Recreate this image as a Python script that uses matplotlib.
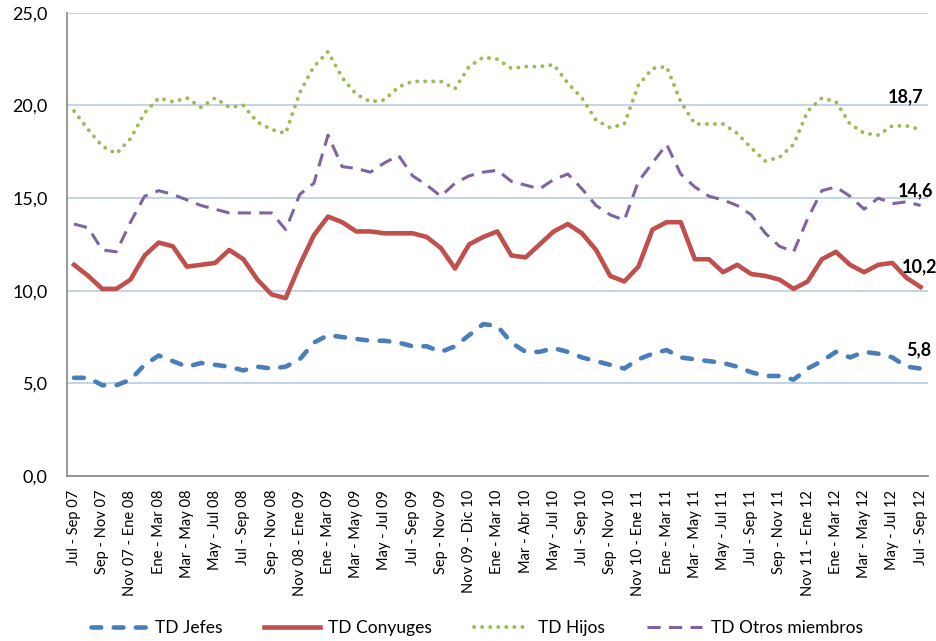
import matplotlib
matplotlib.use("Agg")
import matplotlib.pyplot as plt
from matplotlib.ticker import FuncFormatter

plt.rcParams['font.family'] = ['Lato', 'DejaVu Sans']
plt.rcParams['lines.scale_dashes'] = False

# rolling quarters, one per month; only every other one gets a label
periodos = [
    "Jul - Sep 07", "", "Sep - Nov 07", "", "Nov 07 - Ene 08", "", "Ene - Mar 08", "",
    "Mar - May 08", "", "May - Jul 08", "", "Jul - Sep 08", "", "Sep - Nov 08", "",
    "Nov 08 - Ene 09", "", "Ene - Mar 09", "", "Mar - May 09", "", "May - Jul 09", "",
    "Jul - Sep 09", "", "Sep - Nov 09", "", "Nov 09 - Dic 10", "", "Ene - Mar 10", "",
    "Mar - Abr 10", "", "May - Jul 10", "", "Jul - Sep 10", "", "Sep - Nov 10", "",
    "Nov 10 - Ene 11", "", "Ene - Mar 11", "", "Mar - May 11", "", "May - Jul 11", "",
    "Jul - Sep 11", "", "Sep - Nov 11", "", "Nov 11 - Ene 12", "", "Ene - Mar 12", "",
    "Mar - May 12", "", "May - Jul 12", "", "Jul - Sep 12",
]

td_jefes = [5.3, 5.3, 4.9, 4.9, 5.2, 6.0, 6.5, 6.2, 5.9, 6.1, 6.0, 5.9, 5.7, 5.9, 5.8, 5.9,
            6.3, 7.2, 7.6, 7.5, 7.4, 7.3, 7.3, 7.2, 7.0, 7.0, 6.7, 7.0, 7.6, 8.2, 8.1, 7.2,
            6.7, 6.7, 6.9, 6.7, 6.4, 6.2, 6.0, 5.8, 6.3, 6.6, 6.8, 6.4, 6.3, 6.2, 6.1, 5.9,
            5.6, 5.4, 5.4, 5.2, 5.8, 6.2, 6.7, 6.4, 6.7, 6.6, 6.4, 5.9, 5.8]

td_conyuges = [11.4, 10.8, 10.1, 10.1, 10.6, 11.9, 12.6, 12.4, 11.3, 11.4, 11.5, 12.2, 11.7, 10.6, 9.8, 9.6,
               11.4, 13.0, 14.0, 13.7, 13.2, 13.2, 13.1, 13.1, 13.1, 12.9, 12.3, 11.2, 12.5, 12.9, 13.2, 11.9,
               11.8, 12.5, 13.2, 13.6, 13.1, 12.2, 10.8, 10.5, 11.3, 13.3, 13.7, 13.7, 11.7, 11.7, 11.0, 11.4,
               10.9, 10.8, 10.6, 10.1, 10.5, 11.7, 12.1, 11.4, 11.0, 11.4, 11.5, 10.7, 10.2]

td_hijos = [19.7, 18.7, 17.8, 17.4, 18.2, 19.6, 20.4, 20.2, 20.4, 19.9, 20.4, 19.9, 20.0, 19.1, 18.7, 18.5,
            20.7, 22.1, 22.9, 21.5, 20.6, 20.2, 20.3, 21.0, 21.3, 21.3, 21.3, 20.9, 22.1, 22.6, 22.5, 22.0,
            22.1, 22.1, 22.2, 21.2, 20.4, 19.2, 18.8, 19.0, 21.1, 22.0, 22.1, 20.2, 19.0, 19.0, 19.0, 18.5,
            17.7, 17.0, 17.2, 17.9, 19.7, 20.4, 20.2, 19.0, 18.5, 18.4, 18.9, 18.9, 18.7]

td_otros = [13.6, 13.4, 12.2, 12.1, 13.7, 15.1, 15.4, 15.2, 14.9, 14.6, 14.4, 14.2, 14.2, 14.2, 14.2, 13.3,
            15.2, 15.8, 18.4, 16.7, 16.6, 16.4, 16.9, 17.3, 16.2, 15.7, 15.1, 15.8, 16.2, 16.4, 16.5, 15.9,
            15.7, 15.5, 16.0, 16.3, 15.5, 14.6, 14.1, 13.8, 15.9, 16.9, 17.9, 16.3, 15.6, 15.1, 14.9, 14.6,
            14.1, 13.1, 12.4, 12.1, 13.9, 15.4, 15.6, 15.1, 14.4, 15.0, 14.7, 14.8, 14.6]

last_labels = ["5,8", "10,2", "18,7", "14,6"]

fig = plt.figure(figsize=(9.37, 6.41), dpi=100)
ax = fig.add_axes([0.0715, 0.2574, 0.9185, 0.7226])

x = list(range(len(periodos)))
ax.plot(x, td_jefes, color='#4A7EBB', lw=3.3, dashes=(7, 9), dash_capstyle='round',
        label='TD Jefes')
ax.plot(x, td_conyuges, color='#C0504D', lw=3.3, solid_joinstyle='round', label='TD Conyuges')
ax.plot(x, td_hijos, color='#9BBB59', lw=2.8, dashes=(0.1, 5.7), dash_capstyle='round',
        label='TD Hijos')
ax.plot(x, td_otros, color='#8064A2', lw=2.2, dashes=(9.5, 6), label='TD Otros miembros')

# end-of-series value labels
offsets = [(-2, 19), (-1, 20), (-15, 33), (-5, 15)]
for serie, txt, off in zip([td_jefes, td_conyuges, td_hijos, td_otros], last_labels, offsets):
    ax.annotate(txt, (x[-1], serie[-1]), xytext=off, textcoords='offset pixels',
                ha='center', va='center', fontsize=13, fontweight='bold', color='black',
                annotation_clip=False)

ax.set_xlim(-0.5, len(periodos) - 0.5)
ax.set_ylim(0, 25)
ax.set_yticks([0, 5, 10, 15, 20, 25])
ax.yaxis.set_major_formatter(FuncFormatter(lambda v, p: f"{v:.1f}".replace('.', ',')))
ax.set_xticks(x[::2])
ax.set_xticklabels(periodos[::2], rotation=90, fontsize=10.5)
ax.tick_params(axis='x', length=0, pad=10)
ax.tick_params(axis='y', length=0, pad=14, labelsize=13)

ax.grid(axis='y', color='#B9CDE5', lw=1.2)
ax.set_axisbelow(True)
for s in ['top', 'right']:
    ax.spines[s].set_visible(False)
for s in ['left', 'bottom']:
    ax.spines[s].set_color('#868686')
    ax.spines[s].set_linewidth(1.2)

fig.legend(loc='center', bbox_to_anchor=(0.509, 1 - 628 / 641), ncol=4, frameon=False,
           fontsize=12.5, handlelength=3.2, columnspacing=2.4, handletextpad=0.5)

fig.savefig('out.png', dpi=100)
